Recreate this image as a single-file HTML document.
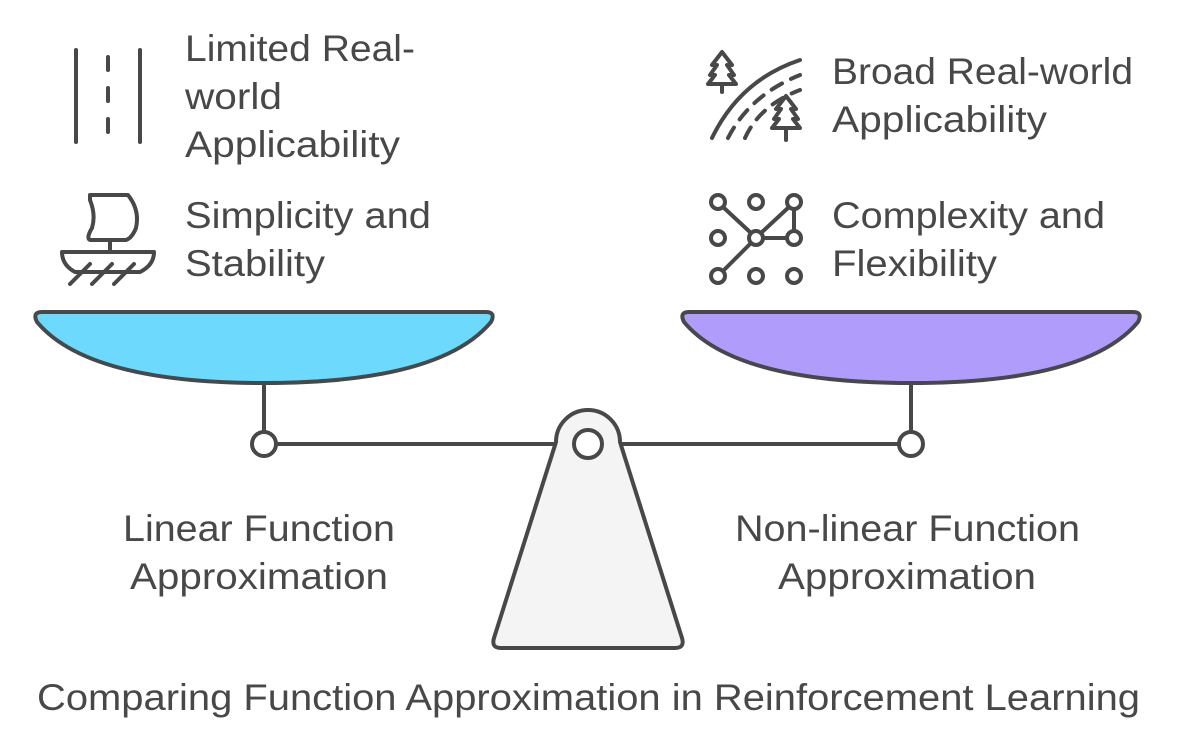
<!DOCTYPE html>
<html><head><meta charset="utf-8"><style>
html,body{margin:0;padding:0;background:#fff}
svg{display:block}
text{font-family:"Liberation Sans",Arial,sans-serif;fill:#484848;font-size:37px}
</style></head><body>
<svg width="1188" height="744" viewBox="0 0 1188 744" xmlns="http://www.w3.org/2000/svg">
<g stroke="#484848" stroke-width="4" fill="none" stroke-linecap="round" stroke-linejoin="round">
<line x1="276" y1="444" x2="899" y2="444"/>
<line x1="264" y1="383" x2="264" y2="432"/>
<line x1="911" y1="383" x2="911" y2="432"/>
<circle cx="264" cy="444" r="12" fill="#fff"/>
<circle cx="911" cy="444" r="12" fill="#fff"/>
<path d="M42 312 H486 Q496 312 491 322 Q440 383 264 383 Q88 383 37 322 Q32 312 42 312 Z" fill="#6dd9fd"/>
<path d="M689 312 H1133 Q1143 312 1138 322 Q1087 383 911 383 Q735 383 684 322 Q679 312 689 312 Z" fill="#b09dfb"/>
<path d="M556 442 A32 32 0 0 1 620 442 L682 638 Q685 648 675 648 H501 Q491 648 494 638 Z" fill="#f4f4f4"/>
<circle cx="588" cy="444" r="14" fill="#fff"/>
<line x1="76" y1="50" x2="76" y2="142"/>
<line x1="140" y1="50" x2="140" y2="142"/>
<line x1="108" y1="57" x2="108" y2="70"/>
<line x1="108" y1="88" x2="108" y2="101"/>
<line x1="108" y1="119" x2="108" y2="132"/>
<path d="M90 195 H128 Q140 210 136 228 Q132 238 126 240 H90 Q86 238 92 228 Q96 215 90 200 Z"/>
<line x1="110" y1="240" x2="110" y2="252"/>
<path d="M62 252 H154 Q154 265 140 272 H75 Q62 265 62 252 Z"/>
<line x1="70" y1="284" x2="90" y2="264"/><line x1="92" y1="284" x2="112" y2="264"/><line x1="114" y1="284" x2="134" y2="264"/>
<path d="M712 138 Q740 80 800 60"/>
<path d="M728 138 Q750 95 800 75" stroke-dasharray="12 10"/>
<path d="M745 138 Q760 105 800 90" stroke-dasharray="12 10"/>
<path d="M722 52 L712 65 H717 L710 75 H715 L708 84 H736 L729 75 H734 L727 65 H732 Z"/><line x1="722" y1="84" x2="722" y2="92"/>
<path d="M786 96 L776 109 H781 L774 119 H779 L772 128 H800 L793 119 H798 L791 109 H796 Z"/><line x1="786" y1="128" x2="786" y2="140"/>
<circle cx="718" cy="202" r="7"/><circle cx="756" cy="202" r="7"/><circle cx="794" cy="202" r="7"/>
<circle cx="718" cy="238" r="7"/><circle cx="756" cy="238" r="7"/><circle cx="794" cy="238" r="7"/>
<circle cx="718" cy="276" r="7"/><circle cx="756" cy="276" r="7"/><circle cx="794" cy="276" r="7"/>
<line x1="723" y1="207" x2="751" y2="233"/><line x1="763" y1="238" x2="787" y2="238"/>
<line x1="761" y1="233" x2="789" y2="207"/><line x1="794" y1="209" x2="794" y2="231"/>
<line x1="751" y1="243" x2="723" y2="271"/>
</g>
<g style="font-size:37px">
<text x="185" y="61" textLength="230" lengthAdjust="spacingAndGlyphs">Limited Real-</text>
<text x="185" y="109" textLength="97" lengthAdjust="spacingAndGlyphs">world</text>
<text x="185" y="157" textLength="215" lengthAdjust="spacingAndGlyphs">Applicability</text>
<text x="185" y="228" textLength="246" lengthAdjust="spacingAndGlyphs">Simplicity and</text>
<text x="185" y="276" textLength="140" lengthAdjust="spacingAndGlyphs">Stability</text>
<text x="832" y="84" textLength="301" lengthAdjust="spacingAndGlyphs">Broad Real-world</text>
<text x="832" y="132" textLength="215" lengthAdjust="spacingAndGlyphs">Applicability</text>
<text x="832" y="228" textLength="273" lengthAdjust="spacingAndGlyphs">Complexity and</text>
<text x="832" y="276" textLength="165" lengthAdjust="spacingAndGlyphs">Flexibility</text>
<text x="123" y="541" textLength="272" lengthAdjust="spacingAndGlyphs">Linear Function</text>
<text x="130" y="589" textLength="258" lengthAdjust="spacingAndGlyphs">Approximation</text>
<text x="735" y="541" textLength="345" lengthAdjust="spacingAndGlyphs">Non-linear Function</text>
<text x="778" y="589" textLength="258" lengthAdjust="spacingAndGlyphs">Approximation</text>
<text x="37" y="710" textLength="1103" lengthAdjust="spacingAndGlyphs">Comparing Function Approximation in Reinforcement Learning</text>
</g>
</svg>
</body></html>
